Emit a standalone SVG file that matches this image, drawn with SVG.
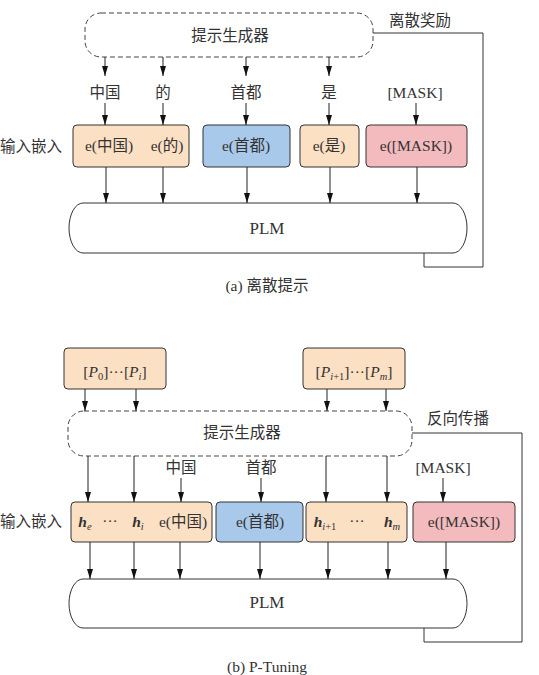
<svg xmlns="http://www.w3.org/2000/svg" width="539" height="675" viewBox="0 0 539 675">
<defs>
<marker id="arr" markerUnits="userSpaceOnUse" markerWidth="10" markerHeight="6" refX="10" refY="3" orient="auto">
<path d="M0,0 L10,3 L0,6 Z" fill="#111"/>
</marker>
<style>
text{font-family:"Liberation Serif","Noto Sans CJK SC",serif;font-size:15.5px;fill:#333;text-anchor:middle}
.lbl{text-anchor:start}
.gen{fill:#fff;stroke:#444;stroke-width:1;stroke-dasharray:5,3}
.plm{fill:#fff;stroke:#333;stroke-width:1}
.box{stroke:#333;stroke-width:1}
.o{fill:#FBE0C4}
.b{fill:#A9C9EA}
.p{fill:#F4BBBF}
.c line{stroke:#222;stroke-width:1;marker-end:url(#arr)}
.fb{fill:none;stroke:#333;stroke-width:1}
.m{font-style:italic}
.h{font-style:italic;font-weight:bold}
.s{font-size:10.5px}
.big{font-size:17px}
</style>
</defs>

<!-- (a) -->
<g id="gen-a"><rect class="gen" x="85" y="13" width="288" height="44" rx="16"/><text x="230" y="41">提示生成器</text></g>
<text x="420" y="26">离散奖励</text>
<g id="lbl-a">
<text x="105" y="98">中国</text><text x="163" y="98">的</text><text x="246" y="98">首都</text><text x="329" y="98">是</text><text x="415" y="98">[MASK]</text>
</g>
<text class="lbl" x="0" y="152">输入嵌入</text>
<g id="emb-a1"><rect class="box o" x="73" y="125" width="116" height="42" rx="4"/><text x="109" y="151">e(中国)</text><text x="167" y="151">e(的)</text></g>
<g id="emb-a2"><rect class="box b" x="203" y="125" width="87" height="42" rx="4"/><text x="246" y="151">e(首都)</text></g>
<g id="emb-a3"><rect class="box o" x="300" y="125" width="59" height="42" rx="4"/><text x="329" y="151">e(是)</text></g>
<g id="emb-a4"><rect class="box p" x="366" y="125" width="101" height="42" rx="4"/><text x="416" y="151">e([MASK])</text></g>
<g id="plm-a"><path class="plm" d="M83,203 H453 A14,25 0 0 1 453,253 H83 A14,25 0 0 1 83,203 Z"/><text class="big" x="267" y="234">PLM</text></g>
<text x="267" y="291">(a) 离散提示</text>

<g class="c" id="conn-a">
<line x1="105" y1="57" x2="105" y2="76"/><line x1="163" y1="57" x2="163" y2="76"/><line x1="246" y1="57" x2="246" y2="76"/><line x1="329" y1="57" x2="329" y2="76"/>
<line x1="105" y1="103" x2="105" y2="125"/><line x1="163" y1="103" x2="163" y2="125"/><line x1="246" y1="103" x2="246" y2="125"/><line x1="329" y1="103" x2="329" y2="125"/><line x1="416" y1="103" x2="416" y2="125"/>
<line x1="106" y1="167" x2="106" y2="203"/><line x1="163" y1="167" x2="163" y2="203"/><line x1="247" y1="167" x2="247" y2="203"/><line x1="330" y1="167" x2="330" y2="203"/><line x1="417" y1="167" x2="417" y2="203"/>
<polyline class="fb" points="373,33 483,33 483,267 424,267 424,253"/>
</g>

<!-- (b) -->
<g id="p1"><rect class="box o" x="64" y="348" width="102" height="41" rx="4"/><text x="115" y="377">[<tspan class="m">P</tspan><tspan class="s" dy="3">0</tspan><tspan dy="-3">]···[</tspan><tspan class="m">P</tspan><tspan class="s m" dy="3">i</tspan><tspan dy="-3">]</tspan></text></g>
<g id="p2"><rect class="box o" x="303" y="348" width="102" height="41" rx="4"/><text x="354" y="377">[<tspan class="m">P</tspan><tspan class="s" dy="3"><tspan class="m">i</tspan>+1</tspan><tspan dy="-3">]···[</tspan><tspan class="m">P</tspan><tspan class="s m" dy="3">m</tspan><tspan dy="-3">]</tspan></text></g>
<g id="gen-b"><rect class="gen" x="68" y="411" width="344" height="45" rx="16"/><text x="242" y="438">提示生成器</text></g>
<text x="458" y="424">反向传播</text>
<g id="lbl-b"><text x="181" y="473">中国</text><text x="261" y="473">首都</text><text x="443" y="473">[MASK]</text></g>
<text class="lbl" x="0" y="527">输入嵌入</text>
<g id="emb-b1"><rect class="box o" x="71" y="502" width="141" height="40" rx="4"/>
<text x="85" y="527"><tspan class="h">h</tspan><tspan class="s m" dy="3">e</tspan></text>
<text x="110" y="526">···</text>
<text x="138" y="527"><tspan class="h">h</tspan><tspan class="s m" dy="3">i</tspan></text>
<text x="183" y="527">e(中国)</text></g>
<g id="emb-b2"><rect class="box b" x="216" y="502" width="87" height="40" rx="4"/><text x="260" y="527">e(首都)</text></g>
<g id="emb-b3"><rect class="box o" x="306" y="502" width="101" height="40" rx="4"/>
<text x="325" y="527"><tspan class="h">h</tspan><tspan class="s" dy="3"><tspan class="m">i</tspan>+1</tspan></text>
<text x="357" y="526">···</text>
<text x="392" y="527"><tspan class="h">h</tspan><tspan class="s m" dy="3">m</tspan></text></g>
<g id="emb-b4"><rect class="box p" x="413" y="502" width="102" height="40" rx="4"/><text x="464" y="527">e([MASK])</text></g>
<g id="plm-b"><path class="plm" d="M83,579 H453 A14,24.5 0 0 1 453,628 H83 A14,24.5 0 0 1 83,579 Z"/><text class="big" x="267" y="608">PLM</text></g>
<text x="267" y="672">(b) P-Tuning</text>

<g class="c" id="conn-b">
<line x1="85" y1="389" x2="85" y2="411"/><line x1="136" y1="389" x2="136" y2="411"/><line x1="327" y1="389" x2="327" y2="411"/><line x1="386" y1="389" x2="386" y2="411"/>
<line x1="88" y1="456" x2="88" y2="502"/><line x1="134" y1="456" x2="134" y2="502"/><line x1="326" y1="456" x2="326" y2="502"/><line x1="387" y1="456" x2="387" y2="502"/>
<line x1="181" y1="478" x2="181" y2="502"/><line x1="261" y1="478" x2="261" y2="502"/><line x1="443" y1="478" x2="443" y2="502"/>
<line x1="90" y1="542" x2="90" y2="579"/><line x1="134" y1="542" x2="134" y2="579"/><line x1="180" y1="542" x2="180" y2="579"/><line x1="260" y1="542" x2="260" y2="579"/><line x1="328" y1="542" x2="328" y2="579"/><line x1="388" y1="542" x2="388" y2="579"/><line x1="446" y1="542" x2="446" y2="579"/>
<polyline class="fb" points="412,433 522,433 522,642 424,642 424,628"/>
</g>
</svg>
